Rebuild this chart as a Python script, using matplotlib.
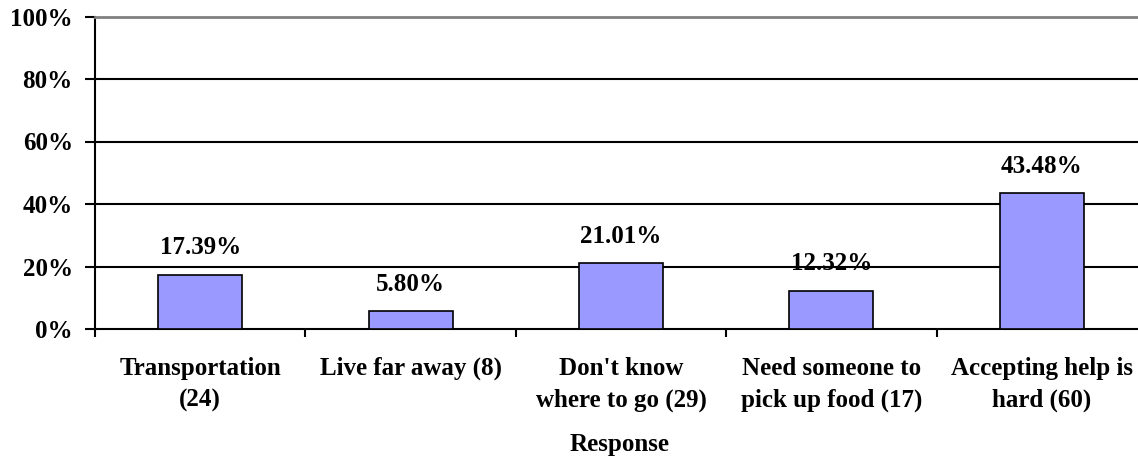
import matplotlib
matplotlib.use("Agg")
import matplotlib.pyplot as plt
import numpy as np

categories = ["Transportation\n(24)", "Live far away (8)", "Don't know\nwhere to go (29)",
              "Need someone to\npick up food (17)", "Accepting help is\nhard (60)"]
values = [17.39, 5.80, 21.01, 12.32, 43.48]
yticks = [0, 20, 40, 60, 80, 100]
ytick_labels = ["0%", "20%", "40%", "60%", "80%", "100%"]

plt.rcParams['font.family'] = ['Liberation Serif', 'DejaVu Serif']
plt.rcParams['font.weight'] = 'bold'

fig = plt.figure(figsize=(11.38, 4.59), dpi=100)
ax = fig.add_axes([95/1138, 1-329/459, (1147-95)/1138, (329-16.5)/459])

x = np.arange(len(categories))
ax.bar(x, values, width=0.4, color='#9999FF', edgecolor='black', linewidth=1.2, zorder=3)
for xi, v in zip(x, values):
    ax.annotate(f"{v:.2f}%", (xi, v), xytext=(0, 11), textcoords='offset points',
                ha='center', va='bottom', fontsize=18, fontweight='bold', zorder=4)

ax.set_xlim(-0.5, len(categories) - 0.5)
ax.set_ylim(0, 100)
ax.set_yticks(yticks)
ax.set_yticklabels(ytick_labels, fontsize=18, fontweight='bold')
for y in yticks[1:-1]:
    ax.axhline(y, color='black', linewidth=1.5, zorder=1)

ax.set_xticks(x)
ax.set_xticklabels(categories, fontsize=18, fontweight='bold', linespacing=1.5)
ax.tick_params(axis='x', length=0, pad=20)
ax.set_xticks(np.arange(len(categories) + 1) - 0.5, minor=True)
ax.tick_params(axis='x', which='minor', length=6, width=1.5, direction='out')
ax.tick_params(axis='y', length=7, width=1.5, direction='out', pad=9)

ax.spines['right'].set_visible(False)
ax.spines['top'].set_color('#808080')
ax.spines['top'].set_linewidth(2)
ax.spines['left'].set_linewidth(1.5)
ax.spines['bottom'].set_linewidth(1.5)

fig.text(620/1138, 1-451/459, "Response", fontsize=18, fontweight='bold',
         ha='center', va='baseline')

fig.savefig("out.png", dpi=100)
